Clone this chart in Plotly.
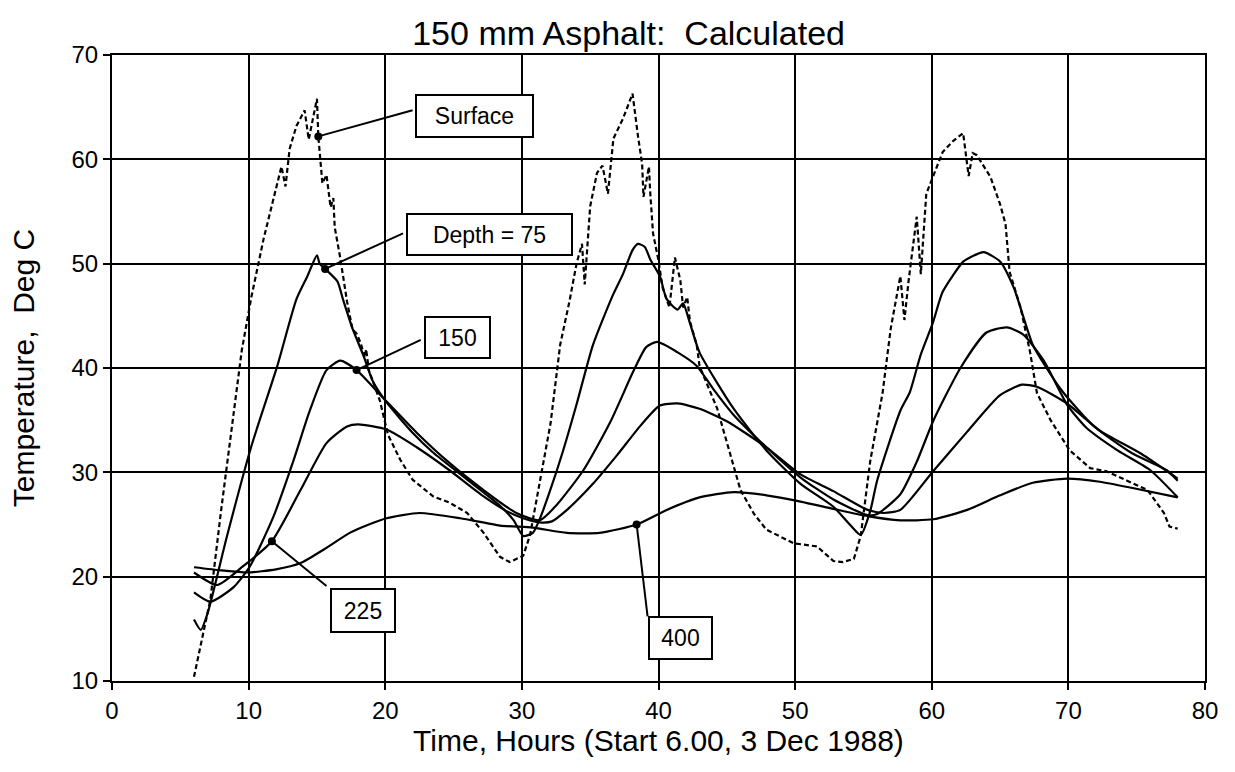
import plotly.graph_objects as go

# ---- temperature traces (time in hours, temperature in deg C) ----
surface_t = [6.0, 6.5, 7.2, 8.0, 8.6, 9.5, 10.2, 11.1, 12.4, 12.7, 13.0, 13.5, 14.1, 14.4, 15.0, 15.1,
             15.4, 15.7, 16.0, 16.2, 16.3, 16.7, 17.2, 17.6, 17.9, 18.2, 18.5, 18.6, 18.8, 19.6, 20.2,
             21.1, 22.0, 23.5, 24.7, 26.0, 27.2, 28.4, 29.1, 30.1, 30.6, 31.3, 32.1, 32.8, 33.5, 34.0,
             34.4, 34.6, 35.0, 35.5, 35.9, 36.3, 36.7, 37.4, 38.1, 38.5, 38.8, 38.9, 39.3, 39.4, 39.6,
             40.0, 40.3, 40.8, 41.2, 41.6, 41.8, 42.1, 42.3, 42.8, 43.0, 44.3, 45.2, 46.0, 47.0, 47.9,
             49.9, 51.6, 52.8, 53.5, 54.3, 54.8, 55.5, 56.4, 57.0, 57.7, 58.0, 58.3, 58.9, 59.2, 59.6,
             60.4, 60.8, 61.6, 62.3, 62.7, 63.0, 63.3, 64.3, 65.0, 65.4, 65.7, 66.5, 67.2, 67.7, 68.7,
             70.1, 71.6, 72.8, 74.3, 75.8, 77.0, 77.4, 78.0]
surface_T = [10.4, 13.5, 17.8, 26.5, 32.4, 41.7, 46.8, 52.4, 59.3, 57.4, 61.0, 63.2, 64.7, 61.9, 65.8, 62.2,
             57.7, 58.5, 55.4, 56.3, 53.5, 50.6, 46.4, 43.7, 43.3, 42.4, 41.0, 41.8, 39.8, 36.9, 33.6,
             31.2, 29.3, 27.7, 27.1, 26.1, 24.2, 21.9, 21.4, 22.0, 24.0, 29.0, 34.7, 42.2, 46.5, 50.0,
             51.9, 48.0, 55.5, 58.7, 59.4, 56.7, 62.0, 63.9, 66.3, 62.2, 59.6, 56.4, 59.3, 56.7, 52.9,
             50.3, 47.7, 45.8, 50.6, 48.4, 45.8, 46.8, 44.5, 42.2, 40.2, 36.1, 32.0, 28.3, 26.0, 24.5,
             23.2, 22.9, 21.5, 21.4, 21.7, 23.9, 31.1, 37.6, 43.8, 48.8, 44.6, 48.3, 54.5, 49.0, 56.7,
             59.4, 60.7, 61.8, 62.5, 58.4, 60.6, 60.4, 58.3, 55.7, 53.8, 49.2, 45.8, 41.5, 37.6, 35.0,
             32.1, 30.4, 30.1, 29.2, 28.3, 26.1, 24.8, 24.6]

d75_t = [6.0, 6.5, 7.0, 8.4, 10.2, 12.1, 13.5, 14.3, 15.0, 15.2, 15.6, 16.5, 16.9, 17.6, 18.4, 19.1,
         20.1, 22.0, 23.5, 26.0, 28.4, 29.4, 30.1, 30.8, 31.3, 32.0, 33.0, 34.0, 35.2, 36.7, 37.4,
         38.1, 38.5, 39.0, 39.4, 40.1, 40.6, 41.4, 41.8, 42.3, 43.0, 45.5, 47.9, 50.4, 52.8, 54.0,
         54.8, 55.5, 56.0, 57.7, 58.4, 59.2, 60.1, 60.8, 62.3, 62.8, 63.8, 65.0, 66.0, 67.4, 68.4,
         69.6, 71.8, 74.7, 77.2, 78.0]
d75_T = [15.9, 14.9, 16.5, 23.8, 32.5, 40.2, 46.6, 48.8, 50.8, 50.0, 49.5, 48.3, 46.6, 43.8, 41.2, 38.7,
         36.7, 33.8, 31.9, 29.3, 26.8, 25.4, 23.9, 24.2, 25.5, 28.0, 32.0, 36.5, 42.2, 47.1, 49.0,
         51.3, 51.9, 51.6, 50.4, 48.8, 46.6, 45.6, 46.2, 44.3, 41.5, 36.1, 32.1, 28.9, 26.7, 25.0,
         24.0, 26.3, 29.2, 35.9, 37.7, 41.3, 44.4, 47.3, 50.2, 50.6, 51.1, 50.2, 47.7, 42.2, 40.0,
         37.7, 34.5, 31.8, 30.2, 29.2]

d150_t = [6.0, 7.2, 8.9, 10.1, 11.8, 13.3, 14.5, 15.7, 16.7, 17.9, 19.8, 22.3, 24.7, 27.2, 29.6, 31.3,
          32.5, 34.5, 36.5, 38.2, 39.1, 39.9, 41.4, 42.8, 44.0, 45.5, 47.9, 50.4, 52.8, 55.3, 56.0,
          57.7, 58.9, 60.1, 62.1, 64.0, 65.5, 66.7, 68.2, 69.9, 71.3, 73.6, 76.0, 78.0]
d150_T = [18.5, 17.6, 19.0, 21.0, 25.7, 31.2, 36.0, 39.8, 40.7, 39.8, 37.2, 33.8, 30.9, 28.3, 26.1, 25.4,
          26.8, 30.2, 34.9, 39.8, 42.0, 42.5, 41.5, 40.2, 38.0, 35.5, 32.4, 29.5, 27.4, 25.9, 26.0,
          27.9, 31.0, 34.9, 40.0, 43.4, 43.9, 43.2, 40.7, 36.5, 34.3, 32.1, 30.2, 27.6]

d225_t = [6.0, 7.7, 9.6, 11.7, 13.8, 15.7, 17.2, 18.0, 20.1, 22.3, 24.7, 27.2, 29.0, 30.1, 31.3, 32.2,
          33.3, 35.2, 37.0, 38.7, 40.1, 41.4, 43.0, 45.0, 47.9, 50.4, 52.8, 55.3, 56.5, 57.7, 60.1,
          62.6, 65.0, 66.6, 67.7, 69.9, 72.3, 75.3, 78.0]
d225_T = [20.4, 19.2, 21.0, 23.4, 28.3, 32.8, 34.4, 34.6, 34.1, 32.4, 30.2, 27.7, 26.2, 25.6, 25.2, 25.3,
          26.4, 28.9, 31.7, 34.5, 36.4, 36.6, 36.1, 34.9, 32.4, 29.8, 28.2, 26.4, 26.1, 26.4, 30.1,
          33.9, 37.4, 38.4, 38.2, 36.6, 34.0, 31.8, 29.4]

d400_t = [6.0, 8.0, 9.9, 12.0, 13.8, 15.5, 17.4, 18.8, 20.1, 22.5, 25.5, 28.4, 30.8, 33.3, 35.7, 38.4,
          40.6, 43.0, 45.5, 47.9, 50.4, 52.8, 55.3, 57.7, 60.1, 62.6, 65.0, 67.4, 69.9, 72.3, 74.7, 78.0]
d400_T = [20.9, 20.6, 20.4, 20.7, 21.3, 22.6, 24.2, 25.0, 25.6, 26.1, 25.6, 24.9, 24.7, 24.2, 24.2, 25.0,
          26.4, 27.6, 28.1, 27.8, 27.2, 26.5, 25.8, 25.4, 25.5, 26.4, 27.8, 29.0, 29.4, 29.1, 28.5, 27.6]

# ---- callout labels and the curve point each one points at ----
label_text = ["Surface", "Depth = 75", "150", "225", "400"]
label_pt_t = [15.1, 15.6, 17.9, 11.7, 38.4]
label_pt_T = [62.2, 49.5, 39.8, 23.4, 25.0]

# ---- axis ticks ----
x_ticks = [0, 10, 20, 30, 40, 50, 60, 70, 80]
y_ticks = [10, 20, 30, 40, 50, 60, 70]

FONT = "Liberation Sans, Arial, Helvetica, sans-serif"
INK = "black"

fig = go.Figure()

curves = [
    (surface_t, surface_T, "5px,3px", "linear"),
    (d75_t, d75_T, "solid", "spline"),
    (d150_t, d150_T, "solid", "spline"),
    (d225_t, d225_T, "solid", "spline"),
    (d400_t, d400_T, "solid", "spline"),
]
for t, T, dash, shape in curves:
    fig.add_trace(go.Scatter(
        x=t, y=T, mode="lines",
        line=dict(color=INK, width=2.2, dash=dash, shape=shape, smoothing=0.6),
        showlegend=False, hoverinfo="skip",
    ))

# label anchor dots
fig.add_trace(go.Scatter(
    x=label_pt_t, y=label_pt_T, mode="markers",
    marker=dict(color=INK, size=8), showlegend=False, hoverinfo="skip",
))

# box placement: (centre t, centre T, width px, height px, leader end t, leader end T)
box_layout = [
    (26.5, 64.2, 119, 44, 22.0, 64.7),
    (27.6, 52.8, 167, 43, 21.3, 52.9),
    (25.3, 42.9, 67, 43, 22.6, 42.7),
    (18.4, 16.8, 66, 45, 15.7, 19.1),
    (41.6, 14.1, 65, 44, 39.2, 16.2),
]
for text, pt, pT, (bx, by, bw, bh, lx, ly) in zip(label_text, label_pt_t, label_pt_T, box_layout):
    fig.add_shape(type="line", x0=pt, y0=pT, x1=lx, y1=ly,
                  xref="x", yref="y", line=dict(color=INK, width=2), layer="above")
    fig.add_annotation(
        x=bx, y=by, xref="x", yref="y", text=text, showarrow=False,
        font=dict(family=FONT, size=23, color=INK),
        bgcolor="white", bordercolor=INK, borderwidth=2, borderpad=0,
        width=bw - 4, height=bh - 4, align="center", valign="middle",
    )

axis_common = dict(
    showline=True, linecolor=INK, linewidth=2.2, mirror=True,
    showgrid=True, gridcolor=INK, gridwidth=2,
    ticks="outside", ticklen=7, tickwidth=1.5, tickcolor=INK,
    tickfont=dict(family=FONT, size=24, color=INK),
    zeroline=False,
)

fig.update_layout(
    width=1235, height=772,
    margin=dict(l=112, r=30, t=55, b=91),
    paper_bgcolor="white", plot_bgcolor="white",
    font=dict(family=FONT, color=INK),
    title=dict(text="150 mm Asphalt:  Calculated", x=0.509, xref="container",
               y=0.957, yref="container", xanchor="center", yanchor="middle",
               font=dict(family=FONT, size=34, color=INK)),
    xaxis=dict(range=[0, 80], tickvals=x_ticks, **axis_common,
               title=dict(text="Time, Hours (Start 6.00, 3 Dec 1988)",
                          font=dict(family=FONT, size=30, color=INK), standoff=4)),
    yaxis=dict(range=[10, 70], tickvals=y_ticks, **axis_common,
               title=dict(text="Temperature,  Deg C",
                          font=dict(family=FONT, size=30, color=INK), standoff=28)),
)

fig.write_html("out.html")
